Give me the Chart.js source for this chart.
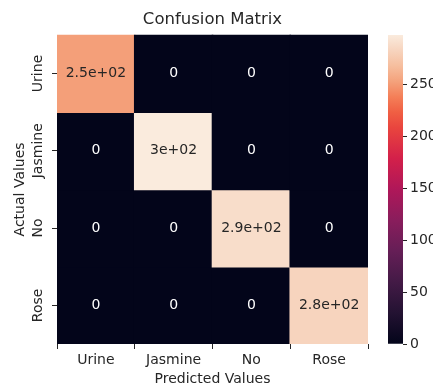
<!DOCTYPE html>
<html>
<head>
<meta charset="utf-8">
<script src="https://cdn.jsdelivr.net/npm/chart.js@4.4.1/dist/chart.umd.min.js"></script>
<style>
  html, body { margin: 0; padding: 0; background: #fff; overflow: hidden; }
  #wrap { position: relative; width: 433px; height: 387px; }
  #heatmap { position: absolute; left: 0; top: 0; }
  #colorbar { position: absolute; left: 380px; top: 0; }
</style>
</head>
<body>
<div id="wrap">
  <canvas id="heatmap" width="433" height="387"></canvas>
  <canvas id="colorbar" width="53" height="387"></canvas>
</div>
<script>
const predictedLabels = ["Urine", "Jasmine", "No", "Rose"];
const actualLabels = ["Urine", "Jasmine", "No", "Rose"];
// rows = actual, columns = predicted
const rowUrine = [252, 0, 0, 0];
const rowJasmine = [0, 298, 0, 0];
const rowNo = [0, 0, 289, 0];
const rowRose = [0, 0, 0, 283];
const matrix = [rowUrine, rowJasmine, rowNo, rowRose];
const colorbarTicks = [0, 50, 100, 150, 200, 250];

const textColor = "#262626";
const fontFamily = "'DejaVu Sans', sans-serif";
Chart.defaults.font.family = fontFamily;
Chart.defaults.color = textColor;

const vmax = Math.max(...matrix.flat());

// seaborn "rocket" colormap, rough stops
const rocketStops = [
    [0.0, [3, 5, 26]],
    [0.1, [35, 18, 50]],
    [0.2, [67, 26, 70]],
    [0.3, [101, 30, 86]],
    [0.4, [137, 29, 92]],
    [0.5, [175, 23, 89]],
    [0.6, [211, 32, 74]],
    [0.7, [233, 69, 62]],
    [0.75, [240, 95, 67]],
    [0.8, [244, 127, 88]],
    [0.85, [244, 162, 124]],
    [0.9, [246, 190, 158]],
    [0.95, [247, 212, 190]],
    [1.0, [250, 235, 221]],
];

const rocket = (t) => {
    t = Math.min(1, Math.max(0, t));
    for (let i = 1; i < rocketStops.length; i++) {
        const [t1, c1] = rocketStops[i];
        const [t0, c0] = rocketStops[i - 1];
        if (t <= t1) {
            const f = (t - t0) / (t1 - t0);
            const c = c0.map((v, k) => Math.round(v + (c1[k] - v) * f));
            return `rgb(${c[0]},${c[1]},${c[2]})`;
        }
    }
    return "rgb(250,235,221)";
};

// like python's "%.2g"
const fmt = (v) => {
    if (v === 0) return "0";
    const e = Math.floor(Math.log10(Math.abs(v)));
    if (e < 2 && e >= -4) return String(Number(v.toPrecision(2)));
    const m = Number((v / Math.pow(10, e)).toFixed(1));
    return m + "e" + (e >= 0 ? "+" : "-") + String(Math.abs(e)).padStart(2, "0");
};

const cellLabels = {
    id: "cellLabels",
    afterDatasetsDraw(chart) {
        const ctx = chart.ctx;
        ctx.save();
        ctx.font = "14px " + fontFamily;
        ctx.textAlign = "center";
        ctx.textBaseline = "middle";
        chart.data.datasets.forEach((ds, r) => {
            chart.getDatasetMeta(r).data.forEach((bar, c) => {
                const v = matrix[r][c];
                ctx.fillStyle = v / vmax > 0.5 ? textColor : "#ffffff";
                ctx.fillText(fmt(v), bar.x, (bar.y + bar.base) / 2);
            });
        });
        ctx.restore();
    },
};

const yLabels = {
    id: "yLabels",
    afterDraw(chart) {
        const scale = chart.scales.y;
        const ctx = chart.ctx;
        ctx.save();
        ctx.font = "14px " + fontFamily;
        ctx.fillStyle = textColor;
        ctx.textAlign = "center";
        ctx.textBaseline = "middle";
        actualLabels.forEach((label, i) => {
            ctx.save();
            ctx.translate(scale.right - 19, scale.getPixelForValue(i + 0.5));
            ctx.rotate(-Math.PI / 2);
            ctx.fillText(label, 0, 0);
            ctx.restore();
        });
        ctx.restore();
    },
};

const heatmap = new Chart(document.getElementById("heatmap"), {
    type: "bar",
    data: {
        labels: predictedLabels,
        datasets: actualLabels.map((label, r) => ({
            label: label,
            data: matrix[r].map(() => [r, r + 1]),
            backgroundColor: matrix[r].map((v) => rocket(v / vmax)),
            borderWidth: 0,
            inflateAmount: 0.8,
            barPercentage: 1,
            categoryPercentage: 1,
            grouped: false,
        })),
    },
    options: {
        responsive: false,
        animation: false,
        layout: {
            padding: { top: 0, right: 65, bottom: 0, left: 0 },
        },
        plugins: {
            legend: { display: false },
            tooltip: { enabled: false },
            title: {
                display: true,
                text: "Confusion Matrix",
                fullSize: false,
                color: textColor,
                font: { size: 16.5, weight: "normal" },
                padding: { top: 10, bottom: 5 },
            },
        },
        scales: {
            x: {
                offset: true,
                grid: {
                    drawOnChartArea: false,
                    drawTicks: true,
                    tickLength: 5,
                    tickColor: textColor,
                },
                border: { display: false },
                ticks: {
                    color: textColor,
                    font: { size: 14 },
                    padding: 3,
                    maxRotation: 0,
                },
                title: {
                    display: true,
                    text: "Predicted Values",
                    color: textColor,
                    font: { size: 14 },
                    padding: { top: 0, bottom: -1 },
                },
                afterFit: (s) => {
                    s.height = 43;
                },
            },
            y: {
                type: "linear",
                min: 0,
                max: 4,
                reverse: true,
                afterBuildTicks: (s) => {
                    s.ticks = actualLabels.map((_, i) => ({ value: i + 0.5 }));
                },
                ticks: { display: false },
                grid: {
                    drawOnChartArea: false,
                    drawTicks: true,
                    tickLength: 5,
                    tickColor: textColor,
                },
                border: { display: false },
                title: {
                    display: true,
                    text: "Actual Values",
                    color: textColor,
                    font: { size: 14 },
                    padding: { top: 12, bottom: 0 },
                },
                afterFit: (s) => {
                    s.width = 57;
                },
            },
        },
    },
    plugins: [cellLabels, yLabels],
});

const colorbar = new Chart(document.getElementById("colorbar"), {
    type: "bar",
    data: {
        labels: [""],
        datasets: [
            {
                data: [[0, vmax]],
                backgroundColor: (ctx) => {
                    const area = ctx.chart.chartArea;
                    if (!area) return null;
                    const g = ctx.chart.ctx.createLinearGradient(0, area.bottom, 0, area.top);
                    rocketStops.forEach(([t]) => g.addColorStop(t, rocket(t)));
                    return g;
                },
                borderWidth: 0,
                barPercentage: 1,
                categoryPercentage: 1,
            },
        ],
    },
    options: {
        responsive: false,
        animation: false,
        layout: {
            padding: { top: 35, bottom: 43, left: 8, right: 0 },
        },
        plugins: {
            legend: { display: false },
            tooltip: { enabled: false },
        },
        scales: {
            x: { display: false },
            y: {
                position: "right",
                min: 0,
                max: vmax,
                afterBuildTicks: (s) => {
                    s.ticks = colorbarTicks.map((v) => ({ value: v }));
                },
                ticks: {
                    color: textColor,
                    font: { size: 14 },
                    padding: 3,
                },
                grid: {
                    drawOnChartArea: false,
                    tickLength: 4,
                    tickColor: textColor,
                },
                border: { display: false },
                afterFit: (s) => {
                    s.width = 30;
                },
            },
        },
    },
});
</script>
</body>
</html>
